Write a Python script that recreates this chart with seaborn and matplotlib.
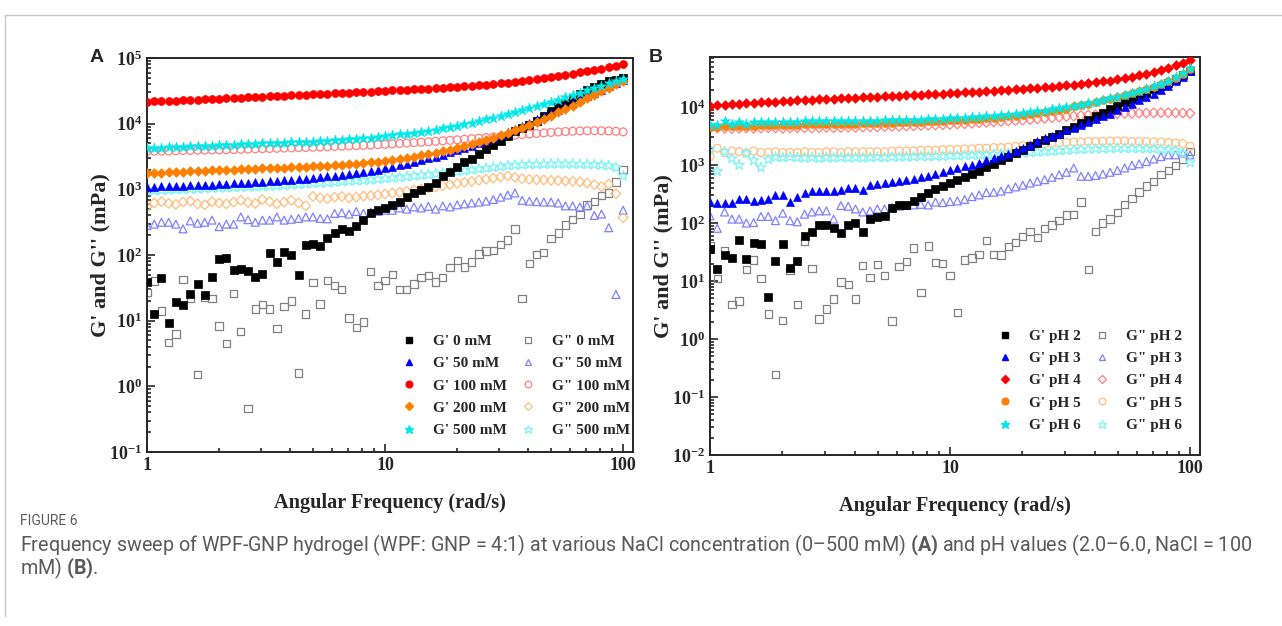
import matplotlib
matplotlib.use("Agg")
import matplotlib.pyplot as plt
from matplotlib.lines import Line2D
from matplotlib.ticker import LogLocator, LogFormatterMathtext, NullFormatter
import numpy as np
import pandas as pd
import seaborn as sns

# angular frequency grid (rad/s)
FREQ = [1.000, 1.072, 1.150, 1.233, 1.322, 1.417, 1.520, 1.630, 1.748, 1.874,
        2.009, 2.154, 2.310, 2.477, 2.656, 2.848, 3.054, 3.275, 3.511, 3.765,
        4.037, 4.329, 4.642, 4.977, 5.337, 5.722, 6.136, 6.579, 7.055, 7.565,
        8.111, 8.697, 9.326, 10.00, 10.72, 11.50, 12.33, 13.22, 14.17, 15.20,
        16.30, 17.48, 18.74, 20.09, 21.54, 23.10, 24.77, 26.56, 28.48, 30.54,
        32.75, 35.11, 37.65, 40.37, 43.29, 46.42, 49.77, 53.37, 57.22, 61.36,
        65.79, 70.55, 75.65, 81.11, 86.97, 93.26, 100.0]

# ---- Panel A: NaCl concentration ----
A_GP_0 = [39, 12.8, 45, 9.3, 19.3, 17.6, 25.7, 36, 25, 47, 87,
          90, 60, 61, 58, 46, 52, 106, 78, 110, 100,
          50, 140, 145, 135, 180, 220, 245, 230, 280, 340,
          440, 480, 520, 575, 650, 760, 870, 980, 1100, 1270,
          1600, 1850, 2200, 2600, 2900, 3450, 4100, 4800, 5500, 6400,
          7600, 8500, 9600, 11000, 13000, 15500, 18000, 21000, 24000, 28000,
          32000, 36000, 40000, 44000, 46000, 49000]
A_GP_50 = [1080, 1100, 1110, 1120, 1130, 1140, 1150, 1160, 1170, 1180, 1200,
           1210, 1230, 1240, 1260, 1280, 1300, 1320, 1340, 1370, 1400,
           1430, 1460, 1500, 1540, 1580, 1620, 1670, 1720, 1780, 1850,
           1920, 2000, 2100, 2200, 2320, 2450, 2600, 2770, 2950, 3150,
           3380, 3640, 3930, 4260, 4640, 5070, 5560, 6120, 6760, 7500,
           8350, 9300, 10400, 11600, 13000, 14600, 16400, 18500, 20800, 23400,
           26300, 29500, 33000, 36900, 41000, 45500]
A_GP_100 = [21500, 21800, 22000, 22200, 22400, 22700, 23000, 23200, 23500, 23800, 24000,
            24300, 24600, 24900, 25200, 25500, 25800, 26100, 26400, 26700, 27000,
            27300, 27600, 27900, 28200, 28600, 29000, 29300, 29700, 30000, 30400,
            30800, 31200, 31600, 32000, 32400, 32800, 33300, 33800, 34300, 34800,
            35300, 35900, 36500, 37100, 37800, 38500, 39300, 40200, 41100, 42200,
            43400, 44700, 46100, 47600, 49300, 51100, 53100, 55300, 57700, 60300,
            63000, 66000, 69000, 72500, 76000, 80000]
A_GP_200 = [1750, 1780, 1800, 1820, 1840, 1860, 1880, 1900, 1920, 1940, 1960,
            1980, 2000, 2020, 2040, 2060, 2080, 2100, 2120, 2140, 2160,
            2180, 2200, 2230, 2260, 2290, 2330, 2370, 2410, 2460, 2520,
            2580, 2650, 2730, 2820, 2920, 3030, 3150, 3280, 3430, 3600,
            3800, 4020, 4270, 4550, 4870, 5230, 5640, 6100, 6630, 7230,
            7920, 8700, 9600, 10600, 11800, 13200, 14800, 16700, 18900, 21400,
            24200, 27400, 31000, 35000, 39500, 44500]
A_GP_500 = [4200, 4250, 4300, 4350, 4400, 4450, 4500, 4550, 4600, 4650, 4700,
            4750, 4800, 4850, 4900, 4950, 5000, 5050, 5100, 5150, 5200,
            5250, 5300, 5350, 5400, 5500, 5600, 5700, 5800, 5900, 6000,
            6150, 6300, 6450, 6650, 6850, 7050, 7300, 7550, 7850, 8150,
            8500, 8900, 9300, 9800, 10300, 10900, 11600, 12300, 13100, 14000,
            15000, 16100, 17300, 18600, 20000, 21600, 23300, 25200, 27300, 29600,
            32100, 34800, 37800, 41000, 44500, 48500]
A_GPP_0 = [27, 40, 14, 4.6, 6.3, 42, 22, 1.5, 23, 22, 8.3,
           4.5, 26, 6.8, 0.46, 15, 17.8, 15, 7.6, 16.6, 20,
           1.6, 12.6, 38, 18, 41, 34, 30, 11, 7.9, 9.5,
           56, 34, 41, 50, 30, 30, 36, 45, 49, 39,
           45, 64, 83, 66, 78, 103, 115, 118, 143, 170,
           250, 22, 74, 102, 110, 180, 215, 285, 345, 415,
           580, 650, 800, 880, 1300, 2000]
A_GPP_50 = [280, 295, 315, 315, 295, 250, 330, 305, 315, 340, 270,
            295, 295, 380, 345, 315, 340, 340, 380, 340, 350,
            360, 380, 380, 360, 355, 430, 440, 420, 460, 430,
            450, 460, 480, 480, 520, 500, 540, 520, 550, 500,
            560, 540, 580, 600, 620, 640, 660, 700, 760, 820,
            880, 680, 660, 650, 640, 640, 620, 560, 560, 540,
            560, 400, 420, 260, 25, 480]
A_GPP_100 = [3800, 3820, 3840, 3860, 3880, 3900, 3920, 3940, 3960, 3980, 4000,
             4020, 4040, 4070, 4100, 4130, 4160, 4190, 4220, 4250, 4280,
             4310, 4340, 4380, 4420, 4460, 4500, 4540, 4580, 4630, 4680,
             4730, 4790, 4850, 4920, 4990, 5060, 5140, 5220, 5300, 5390,
             5480, 5580, 5680, 5790, 5900, 6020, 6140, 6270, 6400, 6540,
             6680, 6820, 6960, 7100, 7230, 7360, 7480, 7590, 7680, 7750,
             7800, 7820, 7800, 7750, 7650, 7500]
A_GPP_200 = [540, 620, 650, 610, 590, 640, 660, 600, 580, 650, 620,
             600, 640, 680, 630, 610, 700, 650, 600, 640, 680,
             620, 560, 780, 740, 720, 760, 780, 740, 760, 790,
             800, 820, 850, 880, 900, 940, 980, 1010, 1050, 1090,
             1130, 1180, 1230, 1280, 1320, 1380, 1430, 1480, 1540, 1600,
             1520, 1450, 1420, 1400, 1390, 1370, 1360, 1340, 1320, 1300,
             1250, 1180, 1100, 1200, 860, 370]
A_GPP_500 = [950, 960, 970, 980, 990, 1000, 1010, 1020, 1030, 1040, 1050,
             1060, 1070, 1080, 1090, 1100, 1110, 1120, 1130, 1150, 1170,
             1190, 1210, 1230, 1250, 1270, 1290, 1310, 1330, 1350, 1370,
             1400, 1430, 1460, 1490, 1520, 1560, 1600, 1640, 1680, 1720,
             1770, 1820, 1870, 1920, 1980, 2040, 2100, 2160, 2220, 2300,
             2340, 2370, 2400, 2420, 2430, 2440, 2440, 2440, 2430, 2420,
             2400, 2380, 2350, 2300, 2150, 1600]

# ---- Panel B: pH ----
B_GP_2 = [35, 16, 28, 25, 50, 24, 46, 44, 5.3, 22, 44,
          16.6, 22, 59, 71, 93, 93, 81, 68, 93, 102,
          71, 117, 125, 133, 185, 205, 205, 240, 285, 325,
          380, 435, 490, 560, 625, 715, 800, 910, 1050, 1200,
          1370, 1600, 1850, 2100, 2400, 2700, 3100, 3500, 4000, 4600,
          5300, 6100, 7000, 8000, 9200, 10500, 12000, 13700, 15600, 17800,
          20300, 23200, 26500, 30500, 35500, 42000]
B_GP_3 = [230, 225, 225, 220, 260, 260, 240, 245, 260, 305, 310,
          230, 280, 330, 350, 355, 355, 355, 365, 400, 410,
          365, 450, 480, 490, 510, 540, 560, 580, 620, 650,
          700, 760, 820, 880, 950, 1020, 1100, 1200, 1300, 1420,
          1550, 1750, 1950, 2250, 2600, 2900, 3200, 3500, 4000, 4400,
          5000, 5600, 6200, 6900, 7700, 8800, 10000, 11400, 13000, 14800,
          17000, 20000, 23500, 28000, 33500, 42000]
B_GP_4 = [10500, 10800, 11000, 11200, 11400, 11600, 11800, 12000, 12200, 12400, 12600,
          12800, 13000, 13200, 13400, 13600, 13800, 14000, 14200, 14400, 14600,
          14800, 15000, 15200, 15400, 15600, 15800, 16000, 16200, 16400, 16600,
          16800, 17000, 17300, 17600, 17900, 18200, 18500, 18800, 19100, 19400,
          19800, 20200, 20600, 21000, 21500, 22000, 22500, 23000, 23600, 24200,
          24900, 25700, 26600, 27600, 28700, 30000, 31500, 33200, 35200, 37500,
          40200, 43500, 47500, 52500, 58500, 66000]
B_GP_5 = [4500, 4600, 4700, 4700, 4750, 4800, 4800, 4850, 4900, 4900, 4950,
          5000, 5000, 5050, 5050, 5100, 5100, 5150, 5150, 5200, 5200,
          5250, 5300, 5300, 5350, 5400, 5450, 5500, 5550, 5600, 5650,
          5700, 5800, 5900, 6000, 6100, 6200, 6300, 6450, 6600, 6750,
          6900, 7100, 7300, 7600, 7900, 8200, 8600, 9000, 9400, 10500,
          10800, 11500, 12200, 13000, 13900, 14900, 16000, 17300, 18800, 20500,
          22500, 25000, 28000, 32000, 37000, 46000]
B_GP_6 = [4900, 5000, 5700, 5100, 5600, 5200, 5600, 5600, 5500, 5600, 5600,
          5600, 5600, 5650, 5650, 5700, 5700, 5700, 5750, 5750, 5800,
          5800, 5850, 5850, 5900, 5950, 6000, 6000, 6050, 6100, 6150,
          6200, 6300, 6400, 6500, 6600, 6700, 6800, 6950, 7100, 7250,
          7400, 7600, 7800, 8100, 8400, 8700, 9100, 9500, 9900, 10400,
          11000, 11700, 12400, 13200, 14100, 15100, 16200, 17500, 19000, 20800,
          22800, 25300, 28500, 32500, 38000, 48000]
B_GPP_2 = [40, 11, 34, 3.9, 4.5, 16, 23, 11, 2.7, 0.245, 2.1,
           15, 3.9, 48, 16.5, 2.2, 3.3, 4.9, 9.6, 8.7, 4.9,
           18.7, 11.4, 19.5, 12.6, 2.05, 17.8, 22, 37, 6.4, 40,
           21, 20, 12.6, 2.9, 23, 25, 29, 50, 29, 28,
           39, 46, 59, 71, 57, 81, 93, 112, 138, 140,
           230, 16, 71, 100, 117, 152, 210, 262, 345, 435,
           525, 690, 800, 970, 1280, 1700]
B_GPP_3 = [133, 81, 155, 117, 117, 100, 102, 130, 130, 110, 148,
           110, 105, 142, 155, 162, 162, 117, 200, 195, 175,
           155, 162, 175, 175, 185, 195, 200, 205, 210, 205,
           230, 225, 235, 240, 255, 285, 305, 335, 340, 355,
           390, 420, 450, 490, 525, 560, 615, 680, 750, 890,
           640, 640, 660, 700, 750, 810, 890, 990, 1050, 1150,
           1270, 1400, 1500, 1500, 1600, 1500]
B_GPP_4 = [4300, 4350, 4300, 4250, 4300, 4350, 4300, 4350, 4400, 4350, 4300,
           4350, 4400, 4400, 4350, 4400, 4450, 4400, 4450, 4500, 4450,
           4500, 4550, 4550, 4600, 4650, 4650, 4700, 4750, 4800, 4850,
           4900, 4950, 5000, 5100, 5150, 5250, 5350, 5450, 5550, 5650,
           5750, 5850, 5950, 6100, 6250, 6400, 6550, 6700, 6850, 7000,
           7150, 7300, 7400, 7500, 7600, 7700, 7750, 7800, 7850, 7900,
           7950, 8000, 8000, 7950, 7900, 7800]
B_GPP_5 = [1400, 1950, 1650, 1750, 1700, 1600, 1750, 1650, 1650, 1700, 1650,
           1650, 1650, 1700, 1650, 1650, 1700, 1700, 1650, 1700, 1700,
           1700, 1700, 1700, 1700, 1750, 1750, 1750, 1750, 1800, 1800,
           1800, 1850, 1850, 1850, 1900, 1900, 1950, 1950, 2000, 2000,
           2050, 2100, 2150, 2200, 2250, 2300, 2350, 2400, 2450, 2500,
           2500, 2550, 2550, 2550, 2600, 2600, 2600, 2550, 2550, 2550,
           2500, 2500, 2450, 2400, 2350, 2100]
B_GPP_6 = [1900, 780, 1700, 1300, 1000, 1600, 1200, 910, 1250, 1370, 1350,
           1380, 1350, 1330, 1350, 1300, 1350, 1330, 1350, 1330, 1350,
           1330, 1350, 1370, 1350, 1380, 1370, 1400, 1390, 1420, 1400,
           1430, 1420, 1450, 1450, 1480, 1480, 1500, 1520, 1530, 1550,
           1570, 1600, 1620, 1650, 1680, 1700, 1730, 1760, 1800, 1830,
           1860, 1880, 1900, 1920, 1940, 1950, 1950, 1950, 1940, 1930,
           1900, 1880, 1850, 1800, 1600, 1100]

A_LEVELS = ["0 mM", "50 mM", "100 mM", "200 mM", "500 mM"]
B_LEVELS = ["pH 2", "pH 3", "pH 4", "pH 5", "pH 6"]

# (marker, filled colour, open colour, size)
A_STYLE = [("s", "#000000", "#808080", 28), ("^", "#0000ff", "#8080ff", 32),
           ("o", "#ff0000", "#ff8080", 32), ("D", "#ff8000", "#ffbf80", 24),
           ("*", "#00e8e8", "#80f4f4", 58)]
B_STYLE = [("s", "#000000", "#808080", 28), ("^", "#0000ff", "#8080ff", 32),
           ("D", "#ff0000", "#ff8080", 24), ("o", "#ff8000", "#ffbf80", 32),
           ("*", "#00e8e8", "#80f4f4", 58)]

SERIF = "Liberation Serif"

sns.set_style("ticks")
plt.rcParams["font.family"] = [SERIF, "DejaVu Serif"]
plt.rcParams["font.weight"] = "bold"
plt.rcParams["mathtext.fontset"] = "custom"
plt.rcParams["mathtext.rm"] = "Liberation Serif:bold"
plt.rcParams["mathtext.bf"] = "Liberation Serif:bold"
plt.rcParams["mathtext.it"] = "Liberation Serif:bold:italic"
plt.rcParams["mathtext.sf"] = "Roboto:bold"


def draw_panel(ax, gp, gpp, levels, styles, ylim, leg_anchor):
    handles_gp, handles_gpp = [], []
    for vals, lvl, (mk, fc, oc, sz) in zip(gp, levels, styles):
        df = pd.DataFrame({"freq": FREQ, "mod": vals})
        sns.scatterplot(data=df, x="freq", y="mod", marker=mk, s=sz, color=fc,
                        edgecolor=fc, linewidth=0.5, ax=ax, zorder=3)
        handles_gp.append(Line2D([], [], ls="", marker=mk, color=fc,
                                 markersize=np.sqrt(sz) * 0.85, label=f"G' {lvl}"))
    for vals, lvl, (mk, fc, oc, sz) in zip(gpp, levels, styles):
        df = pd.DataFrame({"freq": FREQ, "mod": vals})
        sns.scatterplot(data=df, x="freq", y="mod", marker=mk, s=sz, color=oc,
                        facecolor="none", edgecolor=oc, linewidth=0.9, ax=ax, zorder=2)
        handles_gpp.append(Line2D([], [], ls="", marker=mk, color=oc, mfc="none",
                                  markeredgewidth=0.9,
                                  markersize=np.sqrt(sz) * 0.85, label=f'G" {lvl}'))

    ax.set_xscale("log")
    ax.set_yscale("log")
    ax.set_xlim(1, 110)
    ax.set_ylim(*ylim)
    ax.set_xticks([1, 10, 100])
    ax.set_xticklabels(["1", "10", "100"])
    ax.xaxis.set_minor_locator(LogLocator(base=10, subs=np.arange(2, 10)))
    ax.xaxis.set_minor_formatter(NullFormatter())
    ax.yaxis.set_major_locator(LogLocator(base=10, numticks=20))
    ax.yaxis.set_minor_locator(LogLocator(base=10, subs=np.arange(2, 10), numticks=20))
    ax.yaxis.set_major_formatter(LogFormatterMathtext())
    ax.yaxis.set_minor_formatter(NullFormatter())
    ax.tick_params(which="both", direction="in", top=False, right=False,
                   labelsize=13, width=1.2)
    ax.tick_params(which="major", length=6)
    ax.tick_params(which="minor", length=3)
    for sp in ax.spines.values():
        sp.set_linewidth(1.4)
        sp.set_visible(True)
    ax.set_xlabel("Angular Frequency (rad/s)", fontsize=14.6, fontweight="bold", labelpad=14)
    ax.set_ylabel("G' and G'' (mPa)", fontsize=16, fontweight="bold", labelpad=-1)
    ax.legend(handles=handles_gp + handles_gpp, ncol=2, frameon=False,
              loc="lower right", bbox_to_anchor=leg_anchor,
              prop={"family": SERIF, "weight": "bold", "size": 11},
              handlelength=1.4, handletextpad=0.87, columnspacing=0.67,
              labelspacing=0.56, borderpad=0.0, borderaxespad=0.0)


fig = plt.figure(figsize=(12.82, 6.26), dpi=100)
axA = fig.add_axes([147 / 1282, 1 - 452 / 626, 486 / 1282, 394 / 626])
axB = fig.add_axes([710 / 1282, 1 - 455 / 626, 490 / 1282, 398 / 626])

draw_panel(axA, [A_GP_0, A_GP_50, A_GP_100, A_GP_200, A_GP_500],
           [A_GPP_0, A_GPP_50, A_GPP_100, A_GPP_200, A_GPP_500],
           A_LEVELS, A_STYLE, (0.1, 1e5), (0.994, 0.038))
draw_panel(axB, [B_GP_2, B_GP_3, B_GP_4, B_GP_5, B_GP_6],
           [B_GPP_2, B_GPP_3, B_GPP_4, B_GPP_5, B_GPP_6],
           B_LEVELS, B_STYLE, (0.01, 7.3e4), (0.963, 0.058))

# panel letters
fig.text(97 / 1282, 1 - 57 / 626, "A", family="Liberation Sans", weight="bold",
         fontsize=14, ha="center", va="center")
fig.text(656 / 1282, 1 - 57 / 626, "B", family="Liberation Sans", weight="bold",
         fontsize=14, ha="center", va="center")

# page frame and caption
fig.add_artist(Line2D([5 / 1282, 1], [1 - 15 / 626] * 2, transform=fig.transFigure,
                      color="#c8c8c8", lw=1))
fig.add_artist(Line2D([5 / 1282] * 2, [1 - 15 / 626, 1 - 616 / 626],
                      transform=fig.transFigure, color="#c8c8c8", lw=1))
cap = dict(family="Roboto", color="#5a5a5a", va="center", ha="left", weight="normal")
fig.text(20 / 1282, 1 - 521 / 626, "FIGURE 6", fontsize=10, **cap)
fig.text(20 / 1282, 1 - 545 / 626,
         "Frequency sweep of WPF-GNP hydrogel (WPF: GNP = 4:1) at various NaCl "
         "concentration (0\u2013500 mM) $\\mathsf{(A)}$ and pH values (2.0\u20136.0, NaCl = 100",
         fontsize=14.2, **cap)
fig.text(20 / 1282, 1 - 568 / 626, "mM) $\\mathsf{(B)}$.", fontsize=14.2, **cap)

fig.savefig("out.png", dpi=100)
